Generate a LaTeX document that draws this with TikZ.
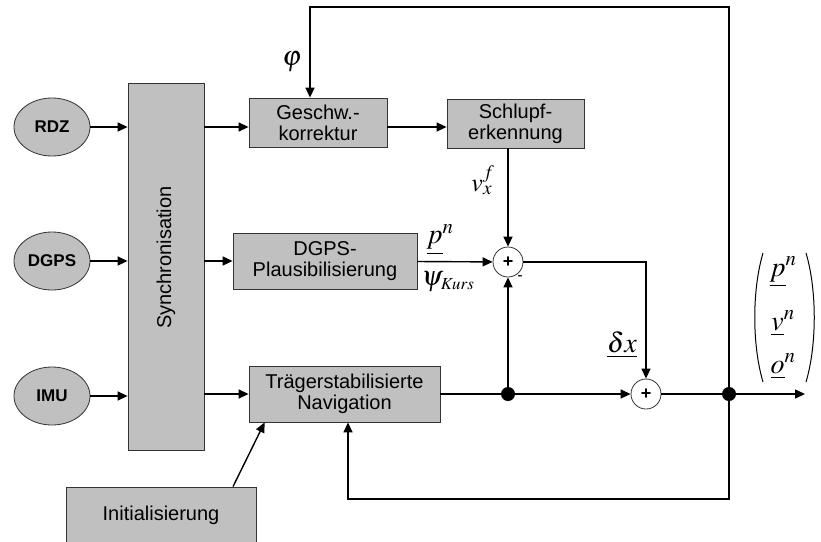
\documentclass[tikz,border=0pt]{standalone}
\usepackage{amsmath}
\usepackage{mathptmx}
\usepackage[no-math]{fontspec}
\setmainfont{Liberation Sans}
\usetikzlibrary{shapes}
\usetikzlibrary{arrows.meta}
\definecolor{blockgray}{RGB}{192,192,192}

\tikzset{
  blockbox/.style={draw=black!80, fill=blockgray, line width=0.8pt, rectangle,
    inner sep=0pt, align=center, font=\fontsize{20}{21}\selectfont},
  sensor/.style={draw=black!80, fill=blockgray, line width=0.8pt, ellipse,
    inner sep=0pt, minimum width=76pt, minimum height=58pt,
    font=\fontsize{17}{20}\selectfont\bfseries},
  sumpoint/.style={draw=black!80, fill=white, line width=0.8pt, circle,
    inner sep=0pt, minimum size=30pt, font=\fontsize{18}{18}\selectfont\bfseries},
  junction/.style={circle, fill=black, inner sep=0pt, minimum size=14pt},
  signal/.style={line width=1.4pt, -{Triangle[length=10pt, width=9pt]}},
  wire/.style={line width=1.4pt},
  mathlabel/.style={inner sep=0pt, font=\fontsize{28}{34}\selectfont}
}

\begin{document}
\begin{tikzpicture}[x=1pt, y=-1pt]
\useasboundingbox (0,0) rectangle (821,541);
\clip (0,0) rectangle (821,541);

% Sensoren
\node[sensor] (rdz) at (52,127) {RDZ};
\node[sensor] (dgps) at (52,261) {DGPS};
\node[sensor] (imu) at (52,396) {IMU};

\node[blockbox, minimum width=76pt, minimum height=367pt] (sync) at (166,266.5)
  {\rotatebox{90}{\hspace*{18pt}Synchronisation}};

% Bloecke
\node[blockbox, minimum width=138pt, minimum height=49pt] (geschw) at (318,122.5)
  {Geschw.-\\korrektur};
\node[blockbox, minimum width=137pt, minimum height=49pt] (schlupf) at (515.5,123.5)
  {Schlupf-\\erkennung};
\node[blockbox, minimum width=184pt, minimum height=56pt] (plaus) at (325,261)
  {DGPS-\\Plausibilisierung};
\node[blockbox, minimum width=191pt, minimum height=56pt] (nav) at (344.5,394)
  {Trägerstabilisierte\\Navigation};
\node[blockbox, minimum width=190pt, minimum height=56pt] (init) at (161,515)
  {Initialisierung};

\node[sumpoint] (sum1) at (508,262) {+};
\node[sumpoint] (sum2) at (646,394) {+};
\node[junction] (j1) at (508,394) {};
\node[junction] (j2) at (729,394) {};
\coordinate (outend) at (805,394);
\coordinate (fbtop) at (310,7);
\coordinate (fbbot) at (348,499);

% Verbindungen
\draw[signal] (rdz) -- (sync.west |- rdz);
\draw[signal] (dgps) -- (sync.west |- dgps);
\draw[signal] (imu) -- (sync.west |- imu);
\draw[signal] (sync.east |- rdz) -- (geschw.west |- rdz);
\draw[signal] (sync.east |- plaus.west) -- (plaus.west);
\draw[signal] (sync.east |- nav.west) -- (nav.west);
\draw[signal] (geschw.east |- rdz) -- (schlupf.west |- rdz);
\draw[signal] (schlupf.south -| sum1) -- (sum1);
\draw[signal] (plaus) -- (sum1);
\draw[wire] (nav) -- (j1);
\draw[signal] (j1) -- (sum1);
\draw[signal] (j1) -- (sum2);
\draw[signal] (sum1) -| (sum2);
\draw[wire] (sum2) -- (j2);
\draw[signal] (j2) -- (outend);
\draw[signal] (j2) |- (fbtop) -- (fbtop |- geschw.north);
\draw[signal] (j2) |- (fbbot) -- (fbbot |- nav.south);
\draw[signal] ([xshift=72pt]init.north) -- ([xshift=16pt]nav.south west);

% Beschriftungen
\node[mathlabel] (phi) at (292,62) {$\varphi$};
\node[mathlabel, font=\fontsize{26}{30}\selectfont] (vxf) at (483,180) {$v^f_x$};
\node[mathlabel] (pn) at (440,240) {$\underline{p}^n$};
\node[mathlabel] (psik) at (448,282) {$\psi_{\scriptscriptstyle Kurs}$};
\node[font=\fontsize{16}{16}\selectfont] (minus) at (520,278) {-};
\node[mathlabel] (dx) at (622,345) {$\underline{\delta x}$};

% Ausgangsvektor
\node[mathlabel, anchor=base] (outp) at (783,276) {$\underline{p}^n$};
\node[mathlabel, anchor=base] (outv) at (783,330) {$\underline{v}^n$};
\node[mathlabel, anchor=base] (outo) at (783,373) {$\underline{o}^n$};
\draw[line width=1pt] (763,253) .. controls (752,290) and (752,345) .. (763,382);
\draw[line width=1pt] (806,253) .. controls (817,290) and (817,345) .. (806,382);
\end{tikzpicture}
\end{document}
